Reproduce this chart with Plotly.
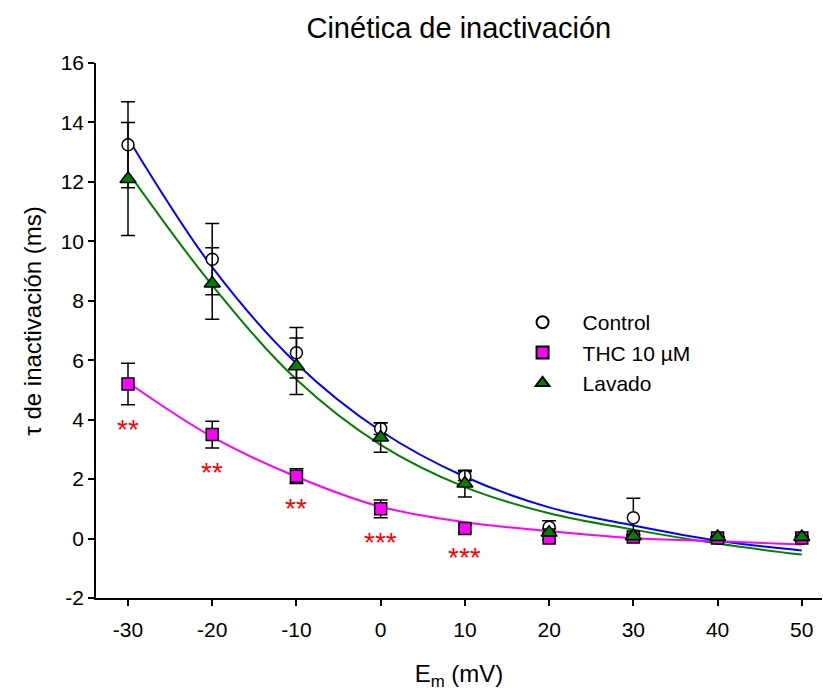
import plotly.graph_objects as go

# ---------------- data ----------------
voltage = [-30, -20, -10, 0, 10, 20, 30, 40, 50]

control = [13.25, 9.4, 6.25, 3.7, 2.1, 0.38, 0.7, 0.02, 0.02]
control_err = [1.45, 1.2, 0.85, 0.2, 0.15, 0.22, 0.66, 0.04, 0.04]

thc = [5.2, 3.5, 2.1, 1.0, 0.34, 0.02, 0.05, 0.02, 0.02]
thc_err = [0.7, 0.45, 0.25, 0.3, 0.12, 0.06, 0.06, 0.03, 0.03]

lavado = [12.1, 8.58, 5.8, 3.4, 1.85, 0.2, 0.08, 0.05, 0.05]
lavado_err = [1.9, 1.2, 0.95, 0.5, 0.45, 0.12, 0.06, 0.03, 0.03]

# fitted exponential curves at each voltage
control_fit = [13.47, 9.13, 5.89, 3.62, 2.08, 1.05, 0.44, -0.07, -0.4]
thc_fit = [5.25, 3.42, 2.08, 1.07, 0.55, 0.25, 0.01, -0.09, -0.2]
lavado_fit = [12.33, 8.52, 5.35, 3.15, 1.73, 0.85, 0.3, -0.17, -0.54]

significance = ["**", "**", "**", "***", "***"]
sig_voltage = [-30, -20, -10, 0, 10]

x_ticks = [-30, -20, -10, 0, 10, 20, 30, 40, 50]
y_ticks = [-2, 0, 2, 4, 6, 8, 10, 12, 14, 16]

FONT = "Liberation Sans, Arial, sans-serif"

fig = go.Figure()

# fit curves
for fit, col in [(control_fit, "#0000FF"), (lavado_fit, "#008000"), (thc_fit, "#FF00FF")]:
    fig.add_trace(go.Scatter(
        x=voltage, y=fit, mode="lines",
        line=dict(color=col, width=2, shape="spline", smoothing=1.0),
        showlegend=False, hoverinfo="skip"))

err_style = dict(type="data", color="black", thickness=1.5, width=7)

fig.add_trace(go.Scatter(
    x=voltage, y=control, mode="markers", name="Control",
    error_y=dict(array=control_err, **err_style),
    marker=dict(symbol="circle", size=12, color="white",
                line=dict(color="black", width=1.5))))

fig.add_trace(go.Scatter(
    x=voltage, y=thc, mode="markers", name="THC 10 µM",
    error_y=dict(array=thc_err, **err_style),
    marker=dict(symbol="square", size=12, color="#FF00FF",
                line=dict(color="black", width=1.5))))

fig.add_trace(go.Scatter(
    x=voltage, y=lavado, mode="markers", name="Lavado",
    error_y=dict(array=lavado_err, **err_style),
    marker=dict(symbol="triangle-up", size=14, color="#008000",
                line=dict(color="black", width=1.5))))

# significance asterisks beneath THC points
idx = {v: i for i, v in enumerate(voltage)}
for v, s in zip(sig_voltage, significance):
    i = idx[v]
    fig.add_annotation(
        x=v, y=thc[i] - thc_err[i], text=s, showarrow=False,
        xanchor="center", yanchor="middle", yshift=-25,
        font=dict(family=FONT, size=28, color="#FF0000"))

# y-axis title as a rotated annotation
fig.add_annotation(
    text="τ de inactivación (ms)", xref="paper", yref="paper",
    x=-0.087, y=0.518, xanchor="center", yanchor="middle",
    textangle=-90, showarrow=False,
    font=dict(family=FONT, size=24, color="black"))

fig.update_layout(
    width=823, height=692,
    margin=dict(l=96, r=1, t=63, b=94),
    paper_bgcolor="white", plot_bgcolor="white",
    font=dict(family=FONT, size=21, color="black"),
    title=dict(text="Cinética de inactivación", x=0.5575, xanchor="center",
               y=0.96, yanchor="middle",
               font=dict(family=FONT, size=29, color="black")),
    legend=dict(x=0.56, y=0.553, xanchor="left", yanchor="top",
                bgcolor="rgba(0,0,0,0)", font=dict(family=FONT, size=21),
                itemsizing="constant", itemwidth=70, tracegroupgap=0),
    showlegend=True,
)

fig.update_xaxes(
    range=[-33.8, 52.4], tickvals=x_ticks, ticktext=[str(t) for t in x_ticks],
    showline=True, linecolor="black", linewidth=1.5,
    ticks="outside", ticklen=6, tickwidth=1.5, tickcolor="black",
    ticklabelstandoff=6,
    showgrid=False, zeroline=False,
    title=dict(text="E<sub>m</sub> (mV)", standoff=25,
               font=dict(family=FONT, size=24)))

fig.update_yaxes(
    range=[-2, 16], tickvals=y_ticks, ticktext=[str(t) for t in y_ticks],
    showline=True, linecolor="black", linewidth=1.5,
    ticks="outside", ticklen=6, tickwidth=1.5, tickcolor="black",
    showgrid=False, zeroline=False)

fig.write_html("out.html")
